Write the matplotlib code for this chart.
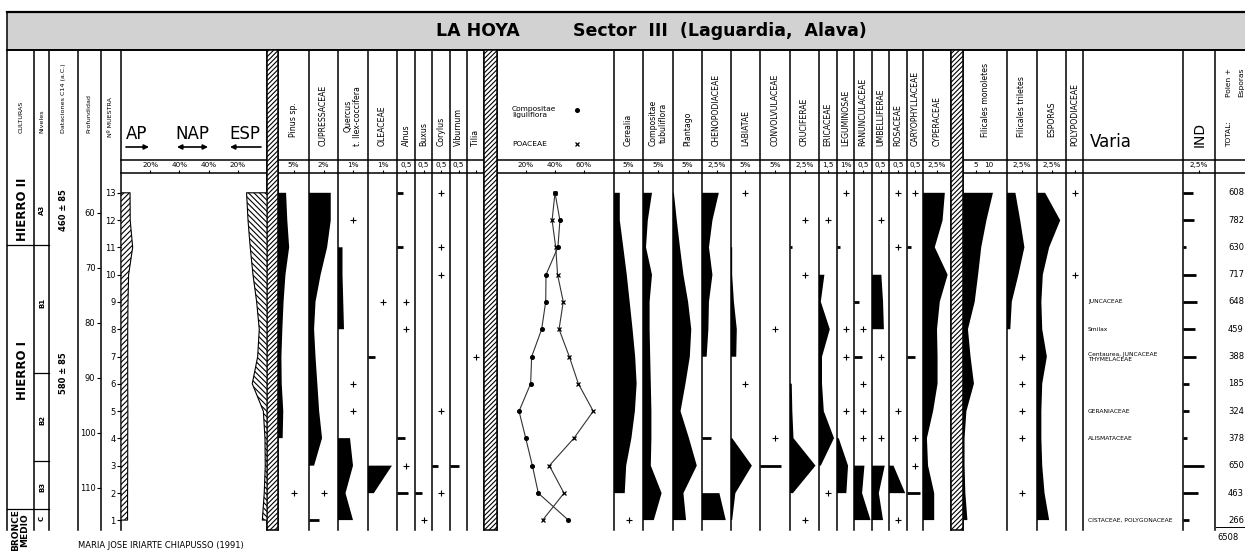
import numpy as np
import matplotlib
matplotlib.use('Agg')
import matplotlib.pyplot as plt
from matplotlib.patches import Rectangle

plt.rcParams['font.family'] = 'DejaVu Sans'
plt.rcParams['hatch.linewidth'] = 0.8

W, H = 1245, 551
P = -1  # presencia "+"

# muestras de arriba (13) a abajo (1)
muestra = [13, 12, 11, 10, 9, 8, 7, 6, 5, 4, 3, 2, 1]
profundidad = [56.4, 61.4, 66.3, 71.3, 76.2, 81.2, 86.2, 91.1, 96.1, 101.0, 106.0, 111.0, 115.9]
prof_ticks = [60, 70, 80, 90, 100, 110]

# diagrama sintetico (%)
ap = [6.2, 6.3, 8.0, 5.2, 4.8, 4.6, 4.6, 4.6, 4.7, 4.6, 4.6, 4.5, 4.5]
esp = [14.0, 13.0, 11.5, 9.6, 7.1, 5.3, 6.4, 10.1, 2.5, 1.4, 1.2, 1.9, 3.2]

# arboreos
pinus = [2.6, 3.0, 3.6, 2.4, 1.8, 1.4, 1.1, 1.2, 1.7, 1.5, 0, P, 0]
cupressaceae = [3.0, 3.0, 2.5, 1.6, 0.9, 0.7, 0.9, 1.15, 1.4, 1.8, 0.7, P, 1.4]
quercus = [0, P, 0.3, 0.3, 0.35, 0.4, 0, P, P, 0.8, 1.0, 0.5, 1.0]
oleaceae = [0, 0, 0, 0, P, 0, 0.5, 0, 0, 0, 1.65, 0.4, 0]
alnus = [0.35, 0, 0.35, 0, P, P, 0, 0, 0, 0.47, P, 0.6, 0]
buxus = [0, 0, 0, 0, 0, 0, 0, 0, 0, 0, 0, 0.4, P]
corylus = [P, 0, P, P, 0, 0, 0, 0, P, 0, 0.35, P, 0]
viburnum = [0, 0, 0, 0, 0, 0, 0, 0, 0, 0, 0.5, 0, 0]
tilia = [0, 0, 0, 0, 0, 0, P, 0, 0, 0, 0, 0, 0]

# curvas
compositae_lig = [40.0, 43.4, 42.0, 33.8, 33.6, 30.8, 23.9, 23.2, 15.2, 19.8, 24.4, 28.5, 49.2]
poaceae = [40.0, 38.0, 40.5, 41.8, 45.7, 42.8, 49.9, 56.1, 66.4, 53.1, 36.1, 46.2, 31.5]

# herbaceos
cerealia = [2.0, 2.0, 3.2, 4.4, 5.4, 6.4, 7.3, 7.8, 7.2, 6.0, 4.2, 3.7, P]
compositae_tub = [3.0, 1.6, 1.0, 3.0, 2.2, 2.2, 2.4, 2.6, 2.8, 2.8, 2.6, 6.2, 3.6]
plantago = [0.3, 1.3, 2.4, 3.6, 5.2, 6.3, 5.8, 4.3, 2.6, 5.5, 8.2, 3.6, 4.5]
chenopodiaceae = [2.9, 1.8, 1.2, 1.8, 1.2, 1.1, 0.8, 0, 0, 1.6, 0, 3.0, 4.1]
labiatae = [P, 0, 0.4, 0.4, 1.0, 2.0, 1.8, P, 0, 0.4, 7.2, 1.5, 0.4]
convolvulaceae = [0, 0, 0, 0, 0, P, 0, 0, 0, P, 6.9, 0, 0]
cruciferae = [0, P, 0.3, P, 0, 0, 0, 0.3, 0.4, 0.6, 4.4, 0.5, P]
ericaceae = [0, P, 0, 0.9, 0.3, 1.8, 0.5, 0.5, 0.8, 2.5, 0.3, P, 0]
leguminosae = [P, 0, 0.4, 0, 0, P, P, 0, P, 0.2, 1.3, 1.1, 0]
ranunculaceae = [0, 0, 0, 0, 0.25, P, 0.45, P, P, P, 0.58, 0.45, 0.92]
umbelliferae = [0, P, 0, 0.55, 0.65, 0.7, P, 0, 0, P, 0.75, 0.4, 0.65]
rosaceae = [P, 0, P, 0, 0, 0, 0, 0, P, 0, 0.25, 0.9, P]
caryophyllaceae = [P, 0, 0.27, 0, 0, 0, 0.47, 0, 0, P, P, 0.8, 0]
cyperaceae = [3.9, 3.5, 2.1, 4.4, 3.0, 2.5, 2.6, 2.6, 1.8, 0.7, 0.9, 2.0, 2.0]

# esporas
filicales_mon = [11.5, 9.0, 7.0, 5.8, 4.5, 1.9, 2.9, 4.2, 1.3, 0.6, 0.6, 0.9, 1.7]
filicales_tri = [1.4, 2.2, 2.9, 1.9, 0.8, 0.55, P, P, P, P, 0, P, 0]
esporas = [1.4, 4.0, 2.1, 1.0, 0.75, 0.9, 1.7, 0.9, 0.75, 0.75, 0.9, 1.3, 2.1]
polypodiaceae = [P, 0, 0, P, 0, 0, 0, 0, 0, 0, 0, 0, 0]

varia = ['', '', '', '', 'JUNCACEAE', 'Smilax', 'Centaurea, JUNCACEAE\nTHYMELACEAE', '',
         'GERANIACEAE', 'ALISMATACEAE', '', '', 'CISTACEAE, POLYGONACEAE']
ind = [1.6, 1.7, 0.5, 2.1, 2.2, 1.8, 2.1, 1.0, 0.9, 0.7, 3.3, 2.3, 0.9]
total = [608, 782, 630, 717, 648, 459, 388, 185, 324, 378, 650, 463, 266]
total_suma = '6508'

YB, YT = 117.7, 52.8   # profundidad en el borde inferior / superior del area de datos
Y0, Y1 = 173, 530      # pixeles del area de datos


def ypx(d):
    return Y0 + (d - YT) / (YB - YT) * (Y1 - Y0)


fig = plt.figure(figsize=(W / 100, H / 100), dpi=100)
ax0 = fig.add_axes([0, 0, 1, 1])
ax0.set_xlim(0, W)
ax0.set_ylim(H, 0)
ax0.axis('off')


def data_axes(x0, x1):
    ax = fig.add_axes([x0 / W, 1 - Y1 / H, (x1 - x0) / W, (Y1 - Y0) / H])
    ax.set_ylim(YB, YT)
    ax.patch.set_alpha(0)
    for s in ax.spines.values():
        s.set_visible(False)
    ax.yaxis.set_visible(False)
    ax.xaxis.tick_top()
    ax.tick_params(axis='x', length=2.5, width=0.8, labelsize=5.2, pad=1.2)
    return ax


def silueta(ax, vals, xmax, barras=False):
    v = np.array(vals, float)
    d = np.array(profundidad)
    n = len(v)
    i = 0
    while i < n:
        if v[i] > 0:
            j = i
            while (not barras) and j + 1 < n and v[j + 1] > 0:
                j += 1
            if j == i:
                ax.plot([0, v[i]], [d[i], d[i]], color='k', lw=2.0, solid_capstyle='butt')
            else:
                xs = np.concatenate([[0], v[i:j + 1], [0]])
                ys = np.concatenate([[d[i]], d[i:j + 1], [d[j]]])
                ax.fill(xs, ys, color='k', lw=0)
            i = j + 1
        else:
            if v[i] == P:
                ax.plot(xmax / 2, d[i], marker='+', color='k', ms=4.5, mew=0.8)
            i += 1


# ---- columnas de taxones: (etiqueta, x0, x1, datos, escala, texto escala)
columnas = [
    ('Pinus sp.', 278, 309, pinus, 5, '5%'),
    ('CUPRESSACEAE', 309, 338, cupressaceae, 2, '2%'),
    ('Quercus\nt. Ilex-coccifera', 338, 368, quercus, 1, '1%'),
    ('OLEACEAE', 368, 397, oleaceae, 1, '1%'),
    ('Alnus', 397, 415, alnus, 0.5, '0,5'),
    ('Buxus', 415, 432, buxus, 0.5, '0,5'),
    ('Corylus', 432, 450, corylus, 0.5, '0,5'),
    ('Viburnum', 450, 467, viburnum, 0.5, '0,5'),
    ('Tilia', 467, 484, tilia, 0.5, ''),
    ('Cerealia', 614, 643, cerealia, 5, '5%'),
    ('Compositae\ntubuliflora', 643, 673, compositae_tub, 5, '5%'),
    ('Plantago', 673, 702, plantago, 5, '5%'),
    ('CHENOPODIACEAE', 702, 731, chenopodiaceae, 2.5, '2,5%'),
    ('LABIATAE', 731, 760, labiatae, 5, '5%'),
    ('CONVOLVULACEAE', 760, 790, convolvulaceae, 5, '5%'),
    ('CRUCIFERAE', 790, 819, cruciferae, 2.5, '2,5%'),
    ('ERICACEAE', 819, 837, ericaceae, 1.5, '1,5'),
    ('LEGUMINOSAE', 837, 854, leguminosae, 1, '1%'),
    ('RANUNCULACEAE', 854, 872, ranunculaceae, 0.5, '0,5'),
    ('UMBELLIFERAE', 872, 889, umbelliferae, 0.5, '0,5'),
    ('ROSACEAE', 889, 907, rosaceae, 0.5, '0,5'),
    ('CARYOPHYLLACEAE', 907, 923, caryophyllaceae, 0.5, '0,5'),
    ('CYPERACEAE', 923, 951, cyperaceae, 2.5, '2,5%'),
    ('Filicales triletes', 1007, 1037, filicales_tri, 2.5, '2,5%'),
    ('ESPORAS', 1037, 1066, esporas, 2.5, '2,5%'),
    ('POLYPODIACEAE', 1066, 1083, polypodiaceae, 0.5, ''),
]

for nombre, x0, x1, vals, esc, lab in columnas:
    ax = data_axes(x0, x1)
    ax.set_xlim(0, 2 * esc)
    ax.set_xticks([esc], [lab])
    silueta(ax, vals, 2 * esc)
    yb = 137 if nombre in ('Pinus sp.', 'Filicales triletes', 'ESPORAS') else 146
    ax0.text((x0 + x1) / 2, yb, nombre, rotation=90, ha='center', va='bottom',
             fontsize=5.6, linespacing=1.1)

# Filicales monoletes (escala 5 / 10)
ax = data_axes(963, 1007)
ax.set_xlim(0, 16.9)
ax.set_xticks([5, 10], ['5', '10'])
silueta(ax, filicales_mon, 16.9)
ax0.text(985, 137, 'Filicales monoletes', rotation=90, ha='center', va='bottom', fontsize=5.6)

# IND
ax = data_axes(1183, 1215)
ax.set_xlim(0, 5)
ax.set_xticks([2.5], ['2,5%'])
silueta(ax, ind, 5, barras=True)
ax0.text(1200, 147, 'IND', rotation=90, ha='center', va='bottom', fontsize=10)

# AP / NAP / ESP
ax = data_axes(121, 267)
ax.set_xlim(0, 100)
ax.set_xticks([20, 40, 60, 80], ['20%', '40%', '40%', '20%'])
ax.fill_betweenx(profundidad, 0, ap, facecolor='white', edgecolor='k', hatch='//////', lw=0.8)
ax.fill_betweenx(profundidad, [100 - e for e in esp], 100, facecolor='white', edgecolor='k',
                 hatch='\\\\\\\\\\\\', lw=0.8)

# Compositae liguliflora / Poaceae
ax = data_axes(497, 614)
ax.set_xlim(0, 80.7)
ax.set_xticks([20, 40, 60], ['20%', '40%', '60%'])
ax.plot(compositae_lig, profundidad, color='#333333', lw=0.8, marker='o', ms=2.6, mfc='k', mec='k')
ax.plot(poaceae, profundidad, color='#333333', lw=0.8, marker='x', ms=3, mec='k', mew=0.9)

# Profundidad y numero de muestra
axp = fig.add_axes([101 / W, 1 - Y1 / H, 0.0001, (Y1 - Y0) / H])
axp.set_ylim(YB, YT)
axp.set_yticks(prof_ticks)
axm = fig.add_axes([121 / W, 1 - Y1 / H, 0.0001, (Y1 - Y0) / H])
axm.set_ylim(YB, YT)
axm.set_yticks(profundidad, [str(m) for m in muestra])
for a in (axp, axm):
    a.patch.set_alpha(0)
    for s in a.spines.values():
        s.set_visible(False)
    a.xaxis.set_visible(False)
    a.tick_params(axis='y', length=3, width=0.8, labelsize=6, pad=1)

# Varia y totales
for d, t, n in zip(profundidad, varia, total):
    if t:
        ax0.text(1088, ypx(d), t, fontsize=4.3, ha='left', va='center', linespacing=1.1)
    ax0.text(1228, ypx(d), str(n), fontsize=6, ha='left', va='center')
ax0.plot([1216, W], [527, 527], color='k', lw=0.7)
ax0.text(1217, 538, total_suma, fontsize=6, ha='left', va='center')

# ---- estructura del diagrama
lw = 1.1
ax0.add_patch(Rectangle((7, 12), W - 7, 38, facecolor='#d2d2d2', edgecolor='none'))
ax0.plot([7, W], [12, 12], color='k', lw=1.6)
ax0.plot([7, W], [50, 50], color='k', lw=1.4)
ax0.text(478, 31, 'LA HOYA', fontsize=12.5, fontweight='bold', ha='center', va='center')
ax0.text(720, 31, 'Sector  III  (Laguardia,  Alava)', fontsize=12.5, fontweight='bold',
         ha='center', va='center')

ax0.plot([7, 7], [12, 530], color='k', lw=lw)
bordes = [34, 49, 78, 101, 121, 267, 278, 309, 338, 368, 397, 415, 432, 450, 467, 484, 497,
          614, 643, 673, 702, 731, 760, 790, 819, 837, 854, 872, 889, 907, 923, 951, 963,
          1007, 1037, 1066, 1083, 1183, 1215]
for x in bordes:
    ax0.plot([x, x], [50, 530], color='k', lw=lw)
ax0.plot([121, W], [160, 160], color='k', lw=lw)
ax0.plot([121, W], [173, 173], color='k', lw=lw)
for x0, x1 in [(267, 278), (484, 497), (951, 963)]:
    ax0.add_patch(Rectangle((x0, 50), x1 - x0, 480, facecolor='white', edgecolor='k',
                            hatch='///////', lw=lw, zorder=3))

# columnas de la izquierda
ax0.plot([7, 49], [245, 245], color='k', lw=0.9)
ax0.plot([34, 49], [373, 373], color='k', lw=0.9)
ax0.plot([34, 49], [461, 461], color='k', lw=0.9)
ax0.plot([7, 49], [509, 509], color='k', lw=0.9)
for x, t, yb in [(21, 'CULTURAS', 133), (42, 'Niveles', 133), (63, 'Dataciones C14 (a.C.)', 133),
                 (89, 'Profundidad', 133), (111, 'Nº MUESTRA', 137)]:
    ax0.text(x, yb, t, rotation=90, ha='center', va='bottom', fontsize=4.6)
ax0.text(22, 209, 'HIERRO II', rotation=90, ha='center', va='center', fontsize=8.5, fontweight='bold')
ax0.text(22, 370, 'HIERRO I', rotation=90, ha='center', va='center', fontsize=8.5, fontweight='bold')
ax0.text(20, 530, 'BRONCE\nMEDIO', rotation=90, ha='center', va='center', fontsize=6.5,
         fontweight='bold', linespacing=0.9)
for y, t in [(210, 'A3'), (303, 'B1'), (420, 'B2'), (487, 'B3'), (518, 'C')]:
    ax0.text(42, y, t, rotation=90, ha='center', va='center', fontsize=5, fontweight='bold')
ax0.text(63, 210, '460 ± 85', rotation=90, ha='center', va='center', fontsize=6, fontweight='bold')
ax0.text(63, 373, '580 ± 85', rotation=90, ha='center', va='center', fontsize=6, fontweight='bold')

# cabecera AP / NAP / ESP
ax0.text(137, 134, 'AP', fontsize=12, ha='center', va='center')
ax0.text(192, 134, 'NAP', fontsize=12, ha='center', va='center')
ax0.text(245, 134, 'ESP', fontsize=12, ha='center', va='center')
flecha = dict(lw=1.2, color='k', mutation_scale=7, shrinkA=0, shrinkB=0)
ax0.annotate('', xy=(149, 147), xytext=(126, 147), arrowprops=dict(arrowstyle='-|>', **flecha))
ax0.annotate('', xy=(208, 147), xytext=(177, 147), arrowprops=dict(arrowstyle='<|-|>', **flecha))
ax0.annotate('', xy=(230, 147), xytext=(261, 147), arrowprops=dict(arrowstyle='-|>', **flecha))

# leyenda Compositae / Poaceae
ax0.text(512, 112, 'Compositae\nliguliflora', fontsize=5.4, ha='left', va='center', linespacing=1.2)
ax0.plot(577, 110, marker='o', ms=2.6, color='k')
ax0.text(512, 144, 'POACEAE', fontsize=5.4, ha='left', va='center')
ax0.plot(577, 144, marker='x', ms=3, color='k', mew=0.9)

# Varia / Total
ax0.text(1090, 142, 'Varia', fontsize=12, ha='left', va='center')
ax0.text(1229, 147, 'TOTAL:', rotation=90, ha='center', va='bottom', fontsize=5.4)
ax0.text(1229, 97, 'Polen +', rotation=90, ha='center', va='bottom', fontsize=5.4)
ax0.text(1241, 97, 'Esporas', rotation=90, ha='center', va='bottom', fontsize=5.4)

ax0.text(78, 546, 'MARIA JOSE IRIARTE CHIAPUSSO (1991)', fontsize=6, ha='left', va='center')

fig.savefig('out.png', dpi=100)
